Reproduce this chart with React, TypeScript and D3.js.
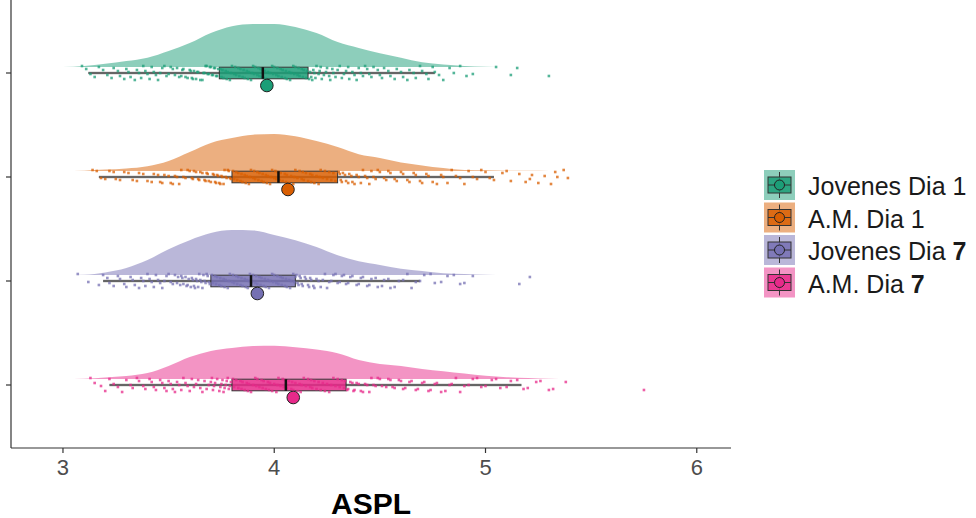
import React from "react";
import * as d3 from "d3";

// groups, top to bottom
const groups = ["Jovenes Dia 1", "A.M. Dia 1", "Jovenes Dia 7", "A.M. Dia 7"];
const colors = ["#1b9e77", "#d95f02", "#7570b3", "#e7298a"];

// density estimates read off the half-violins, on a shared grid
const densityX = [3.0, 3.1, 3.2, 3.3, 3.4, 3.5, 3.6, 3.7, 3.8, 3.9, 4.0, 4.1, 4.2, 4.3, 4.4, 4.5, 4.6, 4.7, 4.8, 4.9, 5.0, 5.1, 5.2, 5.3, 5.4];
const densJovenes1 = [0, 0.03, 0.09, 0.16, 0.25, 0.43, 0.64, 0.91, 1.09, 1.15, 1.15, 1.07, 0.91, 0.67, 0.51, 0.37, 0.25, 0.13, 0.07, 0.03, 0.01, 0, 0, 0, 0];
const densAM1 = [0, 0.01, 0.04, 0.07, 0.13, 0.27, 0.51, 0.75, 0.88, 0.97, 0.99, 0.93, 0.8, 0.64, 0.45, 0.35, 0.23, 0.15, 0.08, 0.03, 0.02, 0.01, 0.005, 0.003, 0.001];
const densJovenes7 = [0, 0.01, 0.07, 0.19, 0.4, 0.69, 0.93, 1.12, 1.2, 1.19, 1.07, 0.93, 0.75, 0.53, 0.37, 0.27, 0.17, 0.11, 0.05, 0.03, 0.01, 0.003, 0, 0, 0];
const densAM7 = [0, 0.01, 0.04, 0.08, 0.16, 0.35, 0.59, 0.75, 0.83, 0.88, 0.89, 0.85, 0.79, 0.69, 0.51, 0.4, 0.35, 0.27, 0.21, 0.15, 0.09, 0.05, 0.03, 0.01, 0];

// boxplot stats: lower whisker, q1, median, q3, upper whisker, and the mean
const whiskerLo = [3.12, 3.17, 3.19, 3.22];
const q1 = [3.74, 3.8, 3.7, 3.8];
const median = [3.946, 4.02, 3.89, 4.055];
const q3 = [4.16, 4.3, 4.1, 4.34];
const whiskerHi = [4.76, 5.04, 4.69, 5.17];
const means = [3.965, 4.065, 3.92, 4.09];

// raw observations (rain)
const ptsJovenes1 = [
  3.09, 3.13, 3.17, 3.21, 3.24, 3.27, 3.3, 3.32, 3.35, 3.37, 3.39, 3.41, 3.43, 3.45, 3.46, 3.48, 3.5, 3.51, 3.53, 3.54,
  3.56, 3.57, 3.58, 3.6, 3.61, 3.62, 3.63, 3.64, 3.66, 3.67, 3.68, 3.69, 3.7, 3.71, 3.72, 3.73,
  3.745, 3.75, 3.755, 3.76, 3.77, 3.775, 3.78, 3.79, 3.795, 3.8, 3.81, 3.815, 3.82, 3.83, 3.835, 3.84, 3.85, 3.855,
  3.86, 3.87, 3.875, 3.88, 3.89, 3.895, 3.9, 3.905, 3.91, 3.92, 3.925, 3.93, 3.935, 3.94, 3.945,
  3.95, 3.955, 3.96, 3.97, 3.975, 3.98, 3.99, 3.995, 4.0, 4.01, 4.015, 4.02, 4.03, 4.035, 4.04, 4.05, 4.055,
  4.06, 4.07, 4.075, 4.08, 4.09, 4.095, 4.1, 4.11, 4.115, 4.12, 4.13, 4.135, 4.14, 4.15, 4.155,
  4.165, 4.17, 4.18, 4.19, 4.2, 4.21, 4.22, 4.235, 4.25, 4.26, 4.275, 4.29, 4.3, 4.32, 4.34, 4.355, 4.37, 4.39,
  4.41, 4.43, 4.45, 4.47, 4.5, 4.52, 4.55, 4.58, 4.61, 4.64, 4.67, 4.7, 4.73, 4.76, 4.8, 4.85, 4.88, 4.94, 5.05, 5.12, 5.15, 5.3,
  3.11, 3.15, 3.19, 3.23, 3.26, 3.29, 3.31, 3.34, 3.36, 3.38, 3.4, 3.42, 3.44, 3.47, 3.49, 3.52, 3.55, 3.565, 3.59, 3.605,
  3.615, 3.635, 3.65, 3.665, 3.675, 3.685, 3.695, 3.705, 3.715, 3.725, 3.735,
  4.175, 4.185, 4.195, 4.215, 4.225, 4.245, 4.265, 4.28, 4.31, 4.33, 4.35, 4.38, 4.4, 4.42, 4.44, 4.46, 4.49, 4.51, 4.54,
  4.57, 4.6, 4.63, 4.66, 4.69, 4.72, 4.75, 4.78, 4.83, 4.91,
];
const ptsAM1 = [
  3.14, 3.18, 3.22, 3.25, 3.29, 3.33, 3.36, 3.4, 3.43, 3.46, 3.48, 3.51, 3.53, 3.55, 3.57, 3.59, 3.61, 3.62, 3.64, 3.65,
  3.67, 3.68, 3.69, 3.71, 3.72, 3.73, 3.74, 3.75, 3.76, 3.77, 3.78, 3.79,
  3.805, 3.81, 3.82, 3.825, 3.83, 3.84, 3.845, 3.85, 3.86, 3.865, 3.87, 3.88, 3.885, 3.89, 3.9, 3.905, 3.91, 3.92,
  3.925, 3.93, 3.94, 3.945, 3.95, 3.96, 3.965, 3.97, 3.98, 3.985, 3.99, 4.0, 4.005, 4.01, 4.015,
  4.025, 4.03, 4.04, 4.05, 4.055, 4.06, 4.07, 4.08, 4.09, 4.095, 4.1, 4.11, 4.12, 4.13, 4.135, 4.14, 4.15,
  4.16, 4.17, 4.175, 4.18, 4.19, 4.2, 4.21, 4.215, 4.22, 4.23, 4.24, 4.25, 4.26, 4.27, 4.28, 4.29,
  4.31, 4.32, 4.335, 4.35, 4.365, 4.38, 4.4, 4.42, 4.44, 4.46, 4.48, 4.5, 4.53, 4.55, 4.58, 4.61, 4.64, 4.67, 4.7,
  4.73, 4.77, 4.8, 4.84, 4.88, 4.92, 4.96, 5.0, 5.04, 5.08, 5.12, 5.16, 5.19, 5.22, 5.25, 5.28, 5.31, 5.34, 5.37, 5.39,
  3.16, 3.2, 3.24, 3.27, 3.31, 3.35, 3.38, 3.42, 3.45, 3.47, 3.5, 3.52, 3.54, 3.56, 3.58, 3.6, 3.615, 3.63, 3.645, 3.66,
  3.675, 3.685, 3.7, 3.715, 3.725, 3.735, 3.745, 3.755, 3.765, 3.775, 3.785, 3.795,
  4.305, 4.315, 4.325, 4.34, 4.355, 4.37, 4.39, 4.41, 4.43, 4.45, 4.47, 4.49, 4.52, 4.54, 4.57, 4.6, 4.63, 4.66, 4.69,
  4.72, 4.75, 4.79, 4.82, 4.86, 4.9, 4.94, 4.98, 5.02, 5.1, 5.21, 5.33,
];
const ptsJovenes7 = [
  3.07, 3.12, 3.19, 3.22, 3.26, 3.29, 3.32, 3.34, 3.37, 3.39, 3.41, 3.43, 3.45, 3.47, 3.48, 3.5, 3.51, 3.53, 3.54, 3.56,
  3.57, 3.58, 3.59, 3.61, 3.62, 3.63, 3.64, 3.65, 3.66, 3.67, 3.68, 3.69,
  3.705, 3.71, 3.72, 3.725, 3.73, 3.74, 3.745, 3.75, 3.76, 3.765, 3.77, 3.78, 3.785, 3.79, 3.8, 3.805, 3.81,
  3.82, 3.825, 3.83, 3.84, 3.845, 3.85, 3.86, 3.865, 3.87, 3.875, 3.88, 3.885,
  3.895, 3.9, 3.91, 3.915, 3.92, 3.93, 3.935, 3.94, 3.95, 3.955, 3.96, 3.97, 3.975, 3.98, 3.99, 3.995,
  4.0, 4.01, 4.015, 4.02, 4.03, 4.035, 4.04, 4.05, 4.055, 4.06, 4.07, 4.075, 4.08, 4.09, 4.095,
  4.105, 4.11, 4.12, 4.13, 4.145, 4.16, 4.17, 4.185, 4.2, 4.22, 4.23, 4.25, 4.27, 4.29, 4.31, 4.33, 4.35, 4.37,
  4.4, 4.42, 4.45, 4.48, 4.51, 4.54, 4.57, 4.61, 4.65, 4.69, 4.74, 4.79, 4.85, 4.9, 4.94, 5.16, 5.21,
  3.17, 3.21, 3.24, 3.27, 3.3, 3.33, 3.36, 3.38, 3.4, 3.42, 3.44, 3.46, 3.49, 3.52, 3.545, 3.555, 3.565, 3.585, 3.595,
  3.605, 3.615, 3.625, 3.635, 3.645, 3.655, 3.665, 3.675, 3.685, 3.695,
  4.1, 4.115, 4.125, 4.135, 4.15, 4.165, 4.175, 4.19, 4.21, 4.24, 4.26, 4.28, 4.3, 4.32, 4.34, 4.36, 4.39, 4.41, 4.44,
  4.46, 4.49, 4.52, 4.55, 4.59, 4.63, 4.67, 4.71, 4.76, 4.82, 4.88,
];
const ptsAM7 = [
  3.13, 3.18, 3.22, 3.26, 3.3, 3.33, 3.36, 3.39, 3.42, 3.44, 3.47, 3.49, 3.51, 3.53, 3.55, 3.57, 3.59, 3.61, 3.62, 3.64,
  3.65, 3.67, 3.68, 3.7, 3.71, 3.72, 3.74, 3.75, 3.76, 3.77, 3.78, 3.79,
  3.805, 3.81, 3.82, 3.83, 3.84, 3.845, 3.85, 3.86, 3.87, 3.875, 3.88, 3.89, 3.9, 3.91, 3.915, 3.92, 3.93,
  3.94, 3.945, 3.95, 3.96, 3.97, 3.975, 3.98, 3.99, 4.0, 4.01, 4.015, 4.02, 4.03, 4.04, 4.045, 4.05,
  4.06, 4.07, 4.08, 4.085, 4.09, 4.1, 4.11, 4.12, 4.125, 4.13, 4.14, 4.15, 4.16, 4.17, 4.175, 4.18,
  4.19, 4.2, 4.21, 4.22, 4.23, 4.24, 4.25, 4.26, 4.27, 4.28, 4.29, 4.3, 4.31, 4.32, 4.33, 4.335,
  4.35, 4.36, 4.38, 4.39, 4.41, 4.43, 4.45, 4.47, 4.49, 4.51, 4.54, 4.56, 4.59, 4.62, 4.65, 4.68, 4.71, 4.74,
  4.77, 4.81, 4.84, 4.88, 4.92, 4.96, 5.0, 5.05, 5.1, 5.15, 5.2, 5.26, 5.32, 5.38, 5.75,
  3.15, 3.2, 3.24, 3.28, 3.32, 3.35, 3.38, 3.41, 3.43, 3.46, 3.48, 3.5, 3.52, 3.54, 3.56, 3.58, 3.6, 3.63, 3.66, 3.69,
  3.705, 3.715, 3.73, 3.745, 3.755, 3.765, 3.775, 3.785, 3.795,
  4.345, 4.37, 4.375, 4.4, 4.42, 4.44, 4.46, 4.48, 4.5, 4.53, 4.55, 4.57, 4.6, 4.61, 4.64, 4.67, 4.7, 4.73, 4.76, 4.79,
  4.83, 4.86, 4.9, 4.94, 4.98, 5.03, 5.07, 5.12, 5.18, 5.24, 5.3,
];

const xTicks = [3, 4, 5, 6];

const densities = [densJovenes1, densAM1, densJovenes7, densAM7];
const points = [ptsJovenes1, ptsAM1, ptsJovenes7, ptsAM7];

const W = 976;
const H = 518;
const left = 11;
const right = 731;
const top = 0;
const bottom = 448;
const font = "'Liberation Sans', Arial, sans-serif";

const App = () => {
  const x = d3.scaleLinear().domain([2.754, 6.162]).range([left, right]);
  const y = d3.scalePoint().domain(groups).range([73, 385]);
  const h = d3.scaleLinear().domain([0, 1.2]).range([0, 45]);

  const boxHalf = 5.8;
  const dot = 2.6;

  return (
    <div style={{ position: "absolute", left: 0, top: 0 }}>
      <svg width={W} height={H} style={{ display: "block", background: "#fff" }} fontFamily={font}>
        {groups.map((g, gi) => {
          const cy = y(g);
          const base = cy - 6;
          const area = d3
            .area()
            .x((d) => x(d[0]))
            .y0(base)
            .y1((d) => base - h(d[1]))
            .curve(d3.curveMonotoneX);
          const dens = densityX.map((v, i) => [v, densities[gi][i]]);
          const c = colors[gi];
          return (
            <g key={g}>
              <path d={area(dens)} fill={c} fillOpacity={0.5} />
              <line x1={x(whiskerLo[gi])} x2={x(whiskerHi[gi])} y1={cy} y2={cy} stroke="#999" strokeWidth={2.5} />
              <line x1={x(whiskerLo[gi])} x2={x(whiskerHi[gi])} y1={cy} y2={cy} stroke="#333" strokeWidth={1} />
              <rect
                x={x(q1[gi])}
                y={cy - boxHalf}
                width={x(q3[gi]) - x(q1[gi])}
                height={boxHalf * 2}
                fill={c}
                fillOpacity={0.85}
                stroke="#333"
                strokeWidth={1}
              />
              {points[gi].map((v, i) => (
                <rect
                  key={i}
                  x={x(v) - dot / 2}
                  y={cy + ((i * 53) % 15) - 7 - dot / 2}
                  width={dot}
                  height={dot}
                  fill={c}
                  fillOpacity={0.75}
                />
              ))}
              <line x1={x(median[gi])} x2={x(median[gi])} y1={cy - boxHalf} y2={cy + boxHalf} stroke="#111" strokeWidth={2.5} />
              <circle cx={x(means[gi])} cy={cy + 12.5} r={6.3} fill={c} stroke="#222" strokeWidth={1} />
            </g>
          );
        })}

        {/* axes */}
        <line x1={left} x2={left} y1={top} y2={bottom} stroke="#333" strokeWidth={1.2} />
        <line x1={left} x2={right} y1={bottom} y2={bottom} stroke="#333" strokeWidth={1.2} />
        {groups.map((g) => (
          <line key={g} x1={left - 5} x2={left} y1={y(g)} y2={y(g)} stroke="#333" strokeWidth={1.2} />
        ))}
        {xTicks.map((t) => (
          <g key={t}>
            <line x1={x(t)} x2={x(t)} y1={bottom} y2={bottom + 5} stroke="#333" strokeWidth={1.2} />
            <text x={x(t)} y={467} textAnchor="middle" dominantBaseline="central" fontSize={22} fill="#4d4d4d">
              {t}
            </text>
          </g>
        ))}
        <text x={(left + right) / 2} y={503} textAnchor="middle" dominantBaseline="central" fontSize={30} fontWeight="bold" fill="#000">
          ASPL
        </text>

        {/* legend */}
        {groups.map((g, gi) => {
          const ky = 170 + gi * 32.5;
          const kx = 764;
          const kw = 31;
          const kh = 30;
          const c = colors[gi];
          const mx = kx + kw / 2;
          const my = ky + kh / 2;
          const parts = g.split(" ");
          const last = parts.pop();
          return (
            <g key={g}>
              <rect x={kx} y={ky} width={kw} height={kh} fill={c} fillOpacity={0.5} />
              <line x1={mx} x2={mx} y1={ky + 2} y2={ky + kh - 2} stroke="#333" strokeWidth={1} />
              <rect x={kx + 4} y={ky + 7} width={kw - 8} height={kh - 14} fill={c} fillOpacity={0.85} stroke="#333" strokeWidth={1} />
              <line x1={kx + 4} x2={kx + kw - 4} y1={my} y2={my} stroke="#333" strokeWidth={1} />
              <circle cx={mx} cy={my} r={5} fill={c} stroke="#222" strokeWidth={1} />
              <text x={808} y={my + 1} dominantBaseline="central" fontSize={25} fill="#1a1a1a">
                {parts.join(" ") + " "}
                <tspan fontWeight={last === "7" ? "bold" : "normal"}>{last}</tspan>
              </text>
            </g>
          );
        })}
      </svg>
    </div>
  );
};

export default App;
